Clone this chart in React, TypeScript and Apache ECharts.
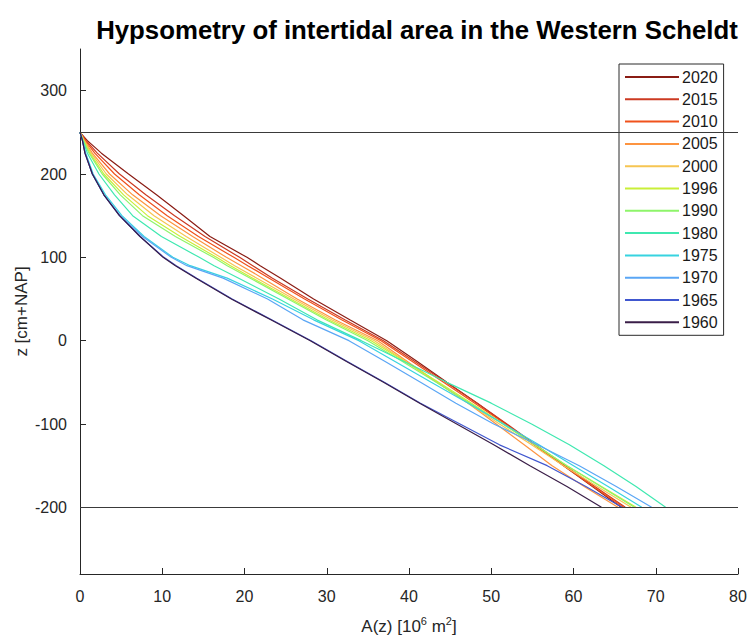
import React, { useEffect, useRef } from "react";
import * as echarts from "echarts";

// Elevation levels (cm + NAP) at which the hypsometric curves are read
const zLevels = [250, 240, 225, 200, 175, 150, 125, 100, 90, 75, 50, 25, 0, -25, -50, -75, -100, -125, -150, -175, -200];

// Cumulative area A(z) [10^6 m^2] per survey year
const years = ["2020", "2015", "2010", "2005", "2000", "1996", "1990", "1980", "1975", "1970", "1965", "1960"];
const area2020 = [0, 0.9, 2.6, 5.9, 9.3, 12.6, 15.8, 20.3, 21.9, 24.4, 28.4, 32.8, 37.3, 41.0, 44.6, 48.3, 51.8, 55.3, 58.8, 62.3, 65.8];
const area2015 = [0, 0.75, 2.1, 4.8, 8.0, 11.5, 15.2, 19.4, 21.0, 23.4, 27.7, 32.2, 36.9, 40.7, 44.5, 48.3, 51.9, 55.4, 59.0, 62.6, 66.3];
const area2010 = [0, 0.65, 1.8, 4.2, 7.2, 10.6, 14.4, 18.7, 20.4, 23.0, 27.3, 31.8, 36.6, 40.4, 44.2, 48.0, 51.7, 55.2, 58.8, 62.4, 66.1];
const area2005 = [0, 0.55, 1.5, 3.6, 6.4, 9.8, 13.7, 17.8, 19.6, 22.2, 26.4, 31.0, 36.2, 39.8, 43.4, 47.2, 50.6, 54.0, 57.4, 61.3, 65.4];
const area2000 = [0, 0.5, 1.35, 3.2, 5.8, 9.0, 12.9, 17.1, 18.8, 21.5, 26.0, 30.6, 35.8, 39.6, 43.4, 47.2, 51.0, 54.9, 58.8, 62.9, 67.0];
const area1996 = [0, 0.45, 1.2, 2.9, 5.3, 8.2, 12.2, 16.6, 18.3, 21.0, 25.6, 30.2, 35.4, 39.5, 43.6, 47.6, 51.5, 55.3, 59.2, 63.4, 67.6];
const area1990 = [0, 0.4, 1.1, 2.7, 4.9, 7.6, 11.6, 16.2, 17.9, 20.7, 25.3, 29.9, 35.0, 39.2, 43.3, 47.4, 51.4, 55.3, 59.2, 63.3, 67.4];
const area1980 = [0, 0.35, 0.9, 2.3, 4.2, 6.4, 9.9, 14.5, 16.3, 19.3, 24.2, 28.8, 34.2, 39.4, 44.6, 50.0, 54.9, 59.5, 63.7, 67.6, 71.2];
const area1975 = [0, 0.3, 0.7, 1.6, 3.1, 5.1, 7.8, 11.3, 13.4, 17.9, 23.4, 28.4, 33.9, 38.3, 42.7, 47.2, 51.5, 55.8, 60.0, 64.2, 68.3];
const area1970 = [0, 0.3, 0.65, 1.5, 2.9, 4.9, 7.6, 11.1, 13.0, 17.4, 22.8, 27.1, 32.7, 37.1, 41.4, 45.7, 50.3, 55.6, 60.7, 65.2, 69.5];
const area1965 = [0, 0.3, 0.6, 1.5, 2.9, 4.8, 7.3, 10.2, 11.7, 14.2, 18.5, 23.3, 28.1, 32.5, 37.0, 41.4, 46.2, 51.0, 56.8, 61.5, 65.9];
const area1960 = [0, 0.3, 0.6, 1.5, 2.9, 4.8, 7.3, 10.1, 11.6, 14.1, 18.4, 23.2, 28.0, 32.4, 36.9, 41.3, 45.8, 50.3, 54.7, 59.2, 63.4];
const areas = [area2020, area2015, area2010, area2005, area2000, area1996, area1990, area1980, area1975, area1970, area1965, area1960];

// Reference levels (high / low water bounds of the intertidal zone)
const refLevels = [250, -200];

// Tick values
const yTicks = [-200, -100, 0, 100, 200, 300];

const colors = [
  "#8a1c14", "#cc3a22", "#f0521c", "#fd9440", "#f6c552", "#c9ef38",
  "#8ef56a", "#3fe8b0", "#37d3e0", "#5aa6f5", "#4057cf", "#3a1e48",
];

const FONT = "'Liberation Sans', Arial, Helvetica, sans-serif";

export default function App() {
  const ref = useRef<HTMLDivElement>(null);
  useEffect(() => {
    if (!ref.current) return;
    const chart = echarts.init(ref.current, undefined, { renderer: "svg" });
    const series: any[] = years.map((y, i) => ({
      name: y,
      type: "line",
      symbol: "none",
      smooth: false,
      data: areas[i].map((a, k) => [a, zLevels[k]]),
      lineStyle: { color: colors[i], width: 1.2 },
      itemStyle: { color: colors[i] },
      z: 3,
    }));
    series.push({
      name: "ref",
      type: "line",
      data: [],
      silent: true,
      markLine: {
        symbol: "none",
        silent: true,
        label: { show: false },
        lineStyle: { color: "#3a3a3a", width: 1, type: "solid" },
        data: refLevels.map((v) => ({ yAxis: v })),
      },
    });
    chart.setOption({
      animation: false,
      backgroundColor: "#ffffff",
      textStyle: { fontFamily: FONT },
      grid: { left: 80, right: 11, top: 49, bottom: 65, containLabel: false, outerBoundsMode: "none" },
      graphic: [
        {
          type: "text",
          x: 417,
          y: 30,
          style: {
            text: "Hypsometry of intertidal area in the Western Scheldt",
            font: `bold 25.8px ${FONT}`,
            fill: "#000",
            align: "center",
            verticalAlign: "middle",
            textAlign: "center",
            textVerticalAlign: "middle",
          },
        },
      ],
      legend: {
        data: years,
        orient: "vertical",
        left: 619,
        top: 64,
        padding: [5, 6, 5, 5],
        itemWidth: 54,
        itemHeight: 14,
        itemGap: 6.3,
        itemStyle: { opacity: 0 },
        backgroundColor: "#fff",
        borderColor: "#2b2b2b",
        borderWidth: 1,
        borderRadius: 0,
        textStyle: { fontSize: 16, color: "#1a1a1a", fontFamily: FONT, padding: [0, 0, 0, -2] },
      },
      xAxis: {
        type: "value",
        min: 0,
        max: 80,
        interval: 10,
        name: "A(z) [10{sup|6} m{sup|2}]",
        nameLocation: "middle",
        nameGap: 41,
        nameMoveOverlap: false,
        nameTextStyle: {
          fontSize: 17,
          color: "#262626",
          fontFamily: FONT,
          lineHeight: 22,
          rich: {
            sup: { fontSize: 11, lineHeight: 22, verticalAlign: "top", color: "#262626", padding: [0, 0, 10, 0] },
          },
        },
        axisLine: { show: true, onZero: false, lineStyle: { color: "#262626", width: 1 } },
        axisTick: { show: true, inside: true, length: 6, lineStyle: { color: "#262626" } },
        axisLabel: { fontSize: 16, color: "#262626", margin: 14, fontFamily: FONT },
        splitLine: { show: false },
      },
      yAxis: {
        type: "value",
        min: -280,
        max: 350,
        name: "z [cm+NAP]",
        nameLocation: "middle",
        nameGap: 50,
        nameMoveOverlap: false,
        nameRotate: 90,
        nameTextStyle: { fontSize: 17, color: "#262626", fontFamily: FONT },
        axisLine: { show: true, onZero: false, lineStyle: { color: "#262626", width: 1 } },
        axisTick: { show: true, inside: true, length: 6, customValues: yTicks, lineStyle: { color: "#262626" } },
        axisLabel: { fontSize: 16, color: "#262626", margin: 13, customValues: yTicks, fontFamily: FONT },
        splitLine: { show: false },
      },
      series,
    });
    return () => chart.dispose();
  }, []);
  return <div ref={ref} style={{ width: 749, height: 639, position: "absolute", left: 0, top: 0 }} />;
}
